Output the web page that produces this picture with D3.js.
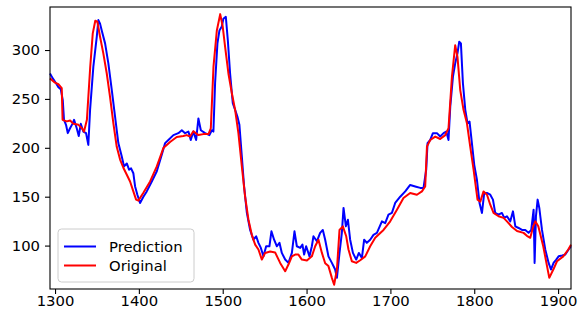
<!DOCTYPE html>
<html>
<head>
<meta charset="utf-8">
<script src="https://cdn.jsdelivr.net/npm/d3@7"></script>
<style>
  body { margin: 0; background: #fff; }
  svg { display: block; font-family: "DejaVu Sans", sans-serif; }
</style>
</head>
<body>
<div class="display__svg"></div>
<script>
// values: index on x, price on y
const origX = [1294,1300,1304,1306,1308,1309,1314,1318,1322,1328,1332,1334.6,1338,1342,1345,1348,1350.5,1353.7,1357.6,1361.7,1365.6,1369.6,1373.6,1377.6,1381.5,1385.6,1389.5,1393.4,1396.7,1399.4,1405.4,1413.4,1421.4,1429.2,1437.2,1445.2,1453,1457,1461,1465,1471,1477,1483,1485.8,1489,1493,1497,1500,1502.9,1506.8,1510.9,1514.8,1518.7,1522.8,1526.7,1530.7,1534.7,1538.7,1542.6,1546.7,1550.6,1556.6,1562.5,1568.5,1574.5,1578.4,1582.5,1586.4,1590.3,1594.4,1600.4,1606.3,1610.3,1614.2,1618.3,1622.2,1626.1,1630.2,1632.9,1636.2,1639.3,1643.3,1647.3,1650,1654,1659.2,1664,1670,1675.9,1681.9,1691.8,1699.8,1707.8,1715.6,1723.6,1731.6,1737.6,1741.5,1743.6,1747.5,1753.5,1759.4,1765.4,1769.3,1773.4,1777.3,1780,1783.3,1787.2,1791.3,1795.2,1799.2,1803.9,1807.2,1811.1,1815.2,1819.1,1823,1829,1835,1839,1845,1851,1858.8,1862.8,1866.8,1870.4,1872.8,1876.4,1882.3,1886.8,1889.5,1894.3,1898.7,1906.2,1912.2,1915.4];
const origY = [271,266.6,265,263,261,228.6,227,228,224.5,223.5,220,216.6,228.6,283,317,330,329,313.6,296.6,276,252,225,201,188,179.6,172.4,165.6,155.4,147,146,154,165.6,181,199.7,206,211,212,213,211.5,217,213,214,214,220,283,320,336.7,324,303,276,255.8,238.8,215,181,150,126.5,111,101,96,85.7,92.5,94,93,82.3,73.8,80.6,89,90.8,90.8,85.7,84.7,89,99.3,106,92.5,82,79,67,60,75.5,116,119.7,109.5,96,84,82.3,85,89,99.3,108,116,124.8,136.7,148.7,153.8,152,155.4,160.5,201.3,208,211.5,209,213,220,272.8,305,293,259,238.8,225,201.3,177.6,147,145,155.4,152,141.8,133.4,130,128.3,124.8,119,115,113,110,108,119.7,124.8,119.7,99.3,79,67,75.5,84,89,96,101];

const predX = [1294,1297.3,1301.2,1304,1306.8,1309.2,1310.7,1313.1,1315.2,1317.9,1321.1,1322.7,1325.9,1328.3,1330.7,1333.8,1337,1339.7,1341.8,1345.7,1349.8,1351.7,1353.7,1355.7,1359.7,1363.6,1367.7,1371.6,1375.5,1379.6,1382.3,1385.6,1388.3,1390.7,1393.4,1395.5,1398.2,1401.4,1405.4,1409.4,1415.4,1421.4,1427.3,1431.3,1435.2,1441.2,1447.1,1451.2,1455.1,1459.1,1461.9,1465,1468.3,1471,1473.9,1479,1484.1,1487,1488.9,1490.9,1493.7,1496.1,1498.9,1500.8,1503.7,1506.1,1508.8,1512,1514.8,1517.5,1519.9,1522.8,1525.5,1528.8,1532.7,1536.6,1539.9,1542.6,1545.5,1548.6,1551.8,1555.7,1558.1,1561.3,1564.6,1567.7,1570.5,1574.5,1578.4,1582.5,1585.6,1588.4,1592.4,1595.1,1597.1,1599.5,1603.5,1606.3,1608.2,1612.3,1616.2,1619.4,1622.2,1626.1,1630.2,1634.1,1636.2,1639.3,1642.1,1644.1,1646.9,1649.3,1652,1655.3,1659.2,1662.4,1666,1668.7,1671.9,1675.9,1679.8,1683.9,1689.9,1693.8,1697.7,1701.8,1705.7,1711.7,1717.7,1723.6,1729.6,1735.6,1739.5,1742.7,1744.3,1747.5,1750.7,1755.5,1759.4,1763.4,1766.6,1769.3,1771.4,1774.6,1777.3,1780,1782.1,1784.1,1786.5,1789.3,1792,1794.4,1797.2,1800,1803.2,1806.3,1809.2,1811.9,1815.1,1819.1,1822.3,1825,1829,1833,1835.8,1839,1843,1846.2,1849,1852.9,1856.9,1860.9,1864.8,1868,1870.8,1872,1873.6,1875.6,1877.6,1878.8,1880.8,1884.7,1888.7,1891.5,1894.6,1897.8,1900.6,1905,1908.6,1912.5,1915.4];
const predY = [276,271,266,262,260,249,228.6,223.5,215,220,225,228.6,220,212,224.5,216.6,215,203,238.8,283,313.6,330.6,327,320,306.8,286.4,259,232,204.8,191,181,184,177.6,179,174,160.5,152,143.5,150,155.4,165.6,176,193,204.8,208,213,215,218,215,216.6,208,216.6,208,230,218,215,213,218,216.6,266,306.8,320,324,332,334,310,276,245.6,238.8,232,223.5,191,160.5,133.4,116,106,109.5,102.8,97.6,89,99.3,99.3,114.6,106,99.3,102.8,92.5,85.7,82.3,92.5,114.6,99.3,97.6,101,90.8,99.3,89,99.3,109.5,104.4,113,116,106,89,82.3,75.5,67,92.5,113,138.5,119.7,126.5,106,92.5,85.7,92.5,87.4,106,102.8,106,111,113,124.8,123,131.6,133.4,143.6,150,155.4,162,160.5,159,159,177.6,204.8,208,215,215,211.5,215,216.6,208,242,272.8,286.4,296.6,308.5,306.8,266,238.8,225,226.8,204.8,182.6,167.3,143.6,133.4,153.8,153.8,152,147,133.4,131.6,133.4,128.3,130,124.8,135,119.7,118,116,116,113,116,136.7,82.3,130,147,138.5,130,116,96,82.3,75.5,82.3,85.7,89,89.8,90.8,96,99.3];

const xTicks = [1300, 1400, 1500, 1600, 1700, 1800, 1900];
const yTicks = [100, 150, 200, 250, 300];
const seriesNames = ["Prediction", "Original"];
const seriesColors = ["blue", "red"];

const width = 579, height = 317;
const margin = { top: 7, right: 8, bottom: 28, left: 50 };
const innerWidth = width - margin.left - margin.right;
const innerHeight = height - margin.top - margin.bottom;
const fontSize = 14.8;

const svg = d3.select(".display__svg").append("svg")
  .attr("width", width)
  .attr("height", height);

const g = svg.append("g").attr("transform", `translate(${margin.left},${margin.top})`);

//scales
const xScale = d3.scaleLinear().domain([1294, 1915.4]).range([0, innerWidth]);
const yScale = d3.scaleLinear().domain([55.6, 344]).range([innerHeight, 0]);

//series lines, prediction under original
const line = d3.line().x(d => xScale(d[0])).y(d => yScale(d[1]));
const series = [d3.zip(predX, predY), d3.zip(origX, origY)];
g.selectAll(".series").data(series).enter()
  .append("path")
  .attr("class", "series")
  .attr("d", line)
  .attr("fill", "none")
  .attr("stroke", (d, i) => seriesColors[i])
  .attr("stroke-width", 2)
  .attr("stroke-linejoin", "round");

//axes
const xaxis = d3.axisBottom(xScale).tickValues(xTicks).tickFormat(d3.format("d")).tickSize(5).tickPadding(1.5);
const yaxis = d3.axisLeft(yScale).tickValues(yTicks).tickFormat(d3.format("d")).tickSize(5).tickPadding(5);

const xg = g.append("g").attr("transform", `translate(0,${innerHeight})`).call(xaxis);
const yg = g.append("g").call(yaxis);
[xg, yg].forEach(a => {
  a.select(".domain").remove();
  a.selectAll("line").attr("stroke", "#000").attr("stroke-width", 1.1);
  a.selectAll("text").attr("fill", "#000").style("font-size", fontSize + "px")
    .style("font-family", "DejaVu Sans");
});

//spines
g.append("rect")
  .attr("x", 0).attr("y", 0)
  .attr("width", innerWidth).attr("height", innerHeight)
  .attr("fill", "none")
  .attr("stroke", "#000")
  .attr("stroke-width", 1.1);

//legend, lower left
const legend = g.append("g").attr("transform", "translate(8,222)");
legend.append("rect")
  .attr("width", 136).attr("height", 53)
  .attr("rx", 3.5)
  .attr("fill", "#fff").attr("fill-opacity", 0.8)
  .attr("stroke", "#ccc").attr("stroke-width", 1);
seriesNames.forEach((name, i) => {
  const y = 17.5 + i * 19;
  legend.append("line")
    .attr("x1", 6).attr("x2", 38).attr("y1", y).attr("y2", y)
    .attr("stroke", seriesColors[i]).attr("stroke-width", 2);
  legend.append("text")
    .attr("x", 51).attr("y", y + 5.5)
    .attr("fill", "#000")
    .style("font-size", fontSize + "px")
    .text(name);
});
</script>
</body>
</html>
